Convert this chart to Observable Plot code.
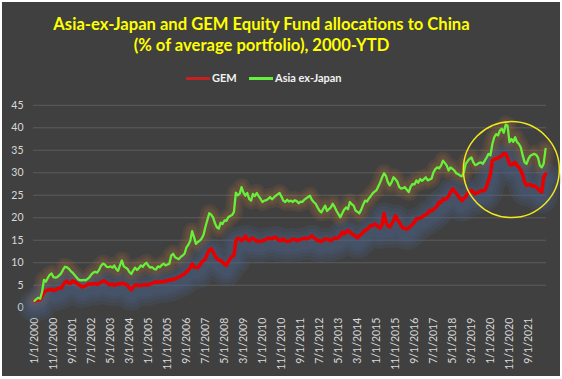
<!DOCTYPE html>
<html><head><meta charset="utf-8">
<script src="https://cdn.jsdelivr.net/npm/d3@7"></script>
<script src="https://cdn.jsdelivr.net/npm/@observablehq/plot@0.6"></script>
<style>
html,body{margin:0;padding:0;background:#fff;width:562px;height:379px;overflow:hidden;}
#box{position:absolute;left:2px;top:2px;width:558px;height:374px;background:#404040;}
.title{position:absolute;left:0;width:523px;text-align:center;color:#ffff00;font-family:Lato,sans-serif;font-weight:bold;font-size:16.6px;white-space:nowrap;}
.leg{position:absolute;font-family:Lato,sans-serif;font-weight:bold;font-size:11px;color:#f2f2f2;white-space:nowrap;}
.sw{position:absolute;height:3px;}
#plot{position:absolute;left:0;top:88px;}
</style></head>
<body>
<div id="box"></div>
<div class="title" style="top:14px">Asia-ex-Japan and GEM Equity Fund allocations to China</div>
<div class="title" style="top:35px">(% of average portfolio), 2000-YTD</div>
<div class="sw" id="swGem" style="left:186px;top:77px;width:24px;"></div>
<div class="leg" style="left:212px;top:71px">GEM</div>
<div class="sw" id="swAxj" style="left:249px;top:77px;width:24px;"></div>
<div class="leg" style="left:275px;top:71px">Asia ex-Japan</div>
<div id="plot"></div>
<script>
// Monthly values, Jan 2000 onward (% of average portfolio)
const gem = [
 1.5,1.6,1.8,1.8,2.6,3.4,3.8,3.9,4.0,4.1,3.8,3.9,          // 2000
 4.2,4.4,4.3,5.0,5.6,5.9,5.5,5.4,6.0,5.8,5.5,5.2,          // 2001
 5.0,4.6,4.7,4.9,5.2,5.3,5.2,5.3,5.3,5.2,5.4,5.6,          // 2002
 6.0,5.9,5.6,5.2,5.1,5.3,5.0,5.1,5.3,5.2,5.5,5.3,          // 2003
 5.2,5.0,4.4,4.0,4.6,5.0,5.1,4.9,5.0,5.0,5.2,5.0,          // 2004
 5.1,5.3,5.4,5.6,5.7,5.6,5.8,5.7,5.9,5.8,6.0,6.2,          // 2005
 6.1,6.4,6.4,6.7,6.8,7.0,7.3,7.5,8.0,8.3,9.0,9.7,          // 2006
 9.0,9.0,8.9,9.4,10.1,10.5,10.9,12.0,12.8,13.1,12.4,11.6,  // 2007
 10.9,10.6,10.5,10.2,9.7,9.4,10.2,10.9,11.4,11.6,14.9,15.5,// 2008
 15.3,14.9,15.2,16.0,15.2,14.9,15.3,15.5,15.0,14.9,14.7,14.8,// 2009
 14.9,15.0,15.2,15.5,15.4,15.3,15.6,15.7,15.2,14.9,15.0,15.3,// 2010
 14.9,14.7,14.8,15.0,15.3,15.2,14.9,15.1,15.2,15.3,15.5,15.3,// 2011
 15.4,15.7,16.0,15.6,15.3,14.9,14.9,14.7,15.0,15.3,15.3,15.1,// 2012
 14.9,15.2,15.5,15.4,15.6,16.1,16.8,16.4,16.8,17.2,16.8,16.4,// 2013
 16.2,15.9,15.5,16.0,16.3,16.8,17.2,17.4,17.8,18.3,18.2,18.6,// 2014
 18.4,18.0,17.7,18.6,21.0,19.0,18.2,17.9,18.6,19.4,20.5,19.6,// 2015
 19.0,18.3,17.7,17.6,17.5,17.7,18.2,18.5,19.0,19.8,19.8,19.9,// 2016
 20.2,20.5,20.7,21.0,21.6,21.5,21.9,22.2,22.7,23.5,23.4,24.2,// 2017
 24.1,24.3,24.8,25.7,26.4,26.0,25.4,24.9,24.3,23.8,24.3,24.7,// 2018
 25.5,25.9,26.1,25.7,25.3,25.5,25.7,26.0,26.0,26.1,27.0,28.3,// 2019
 29.7,32.7,33.0,33.1,33.3,33.5,33.8,34.3,34.2,33.4,32.0,31.7,// 2020
 32.0,32.3,31.6,31.2,30.5,29.5,27.9,27.2,27.3,27.4,27.0,27.1,// 2021
 26.9,26.4,26.0,25.7,29.0,29.7                              // 2022
];
const axj = [
 1.5,1.9,2.2,2.0,3.5,6.2,5.8,6.6,7.3,7.6,6.8,6.7,          // 2000
 6.8,7.2,7.6,8.4,9.1,9.0,8.7,8.2,7.8,7.3,6.8,6.3,          // 2001
 6.1,6.1,6.2,6.1,6.4,6.8,7.4,7.8,8.0,7.8,8.4,9.3,          // 2002
 9.8,9.6,9.1,9.0,9.2,8.9,9.4,8.6,8.2,9.4,10.5,9.2,         // 2003
 8.9,8.6,7.9,7.5,8.3,8.9,8.4,8.8,9.4,9.1,9.7,10.0,         // 2004
 9.3,8.9,9.0,8.6,8.5,9.2,9.0,9.5,9.8,9.4,9.6,9.8,          // 2005
 11.6,12.0,11.2,11.0,10.8,11.3,11.6,12.0,13.4,14.0,14.9,17.0,// 2006
 15.7,14.2,14.6,14.9,15.4,16.2,18.0,19.5,21.0,20.7,20.1,18.8,// 2007
 17.9,17.6,18.9,18.6,19.4,19.3,20.1,20.4,20.6,21.3,25.6,25.0,// 2008
 25.3,26.8,25.6,24.9,25.5,24.2,23.8,25.3,24.8,25.5,24.8,24.2,// 2009
 23.5,23.8,23.9,24.2,24.6,24.1,24.5,24.9,25.2,25.5,24.7,23.8,// 2010
 23.5,24.0,23.6,23.8,23.5,23.9,23.7,23.2,23.6,23.5,24.0,24.3,// 2011
 24.6,24.9,24.0,23.5,23.1,22.3,21.6,21.2,22.0,22.7,21.5,21.9,// 2012
 22.3,23.1,22.4,21.5,20.8,20.1,21.0,21.8,22.3,21.9,23.5,23.0,// 2013
 22.7,21.6,21.3,21.0,21.8,22.9,23.8,23.6,24.3,24.8,25.4,25.8,// 2014
 26.1,27.0,27.9,29.0,29.9,29.3,27.9,27.2,27.9,29.0,28.6,28.0,// 2015
 26.8,26.5,26.6,26.8,26.2,25.7,26.9,27.5,27.4,28.3,27.8,28.6,// 2016
 28.2,28.6,29.0,28.3,28.5,28.7,30.1,30.8,31.2,31.0,31.6,32.7,// 2017
 32.2,31.6,30.5,31.2,30.9,30.5,29.9,29.7,29.4,29.2,30.1,32.0,// 2018
 32.6,33.1,33.4,32.3,31.7,31.9,32.2,32.3,32.0,32.7,33.4,34.2,// 2019
 33.9,36.4,37.9,38.6,38.3,39.4,39.8,38.9,40.7,40.5,36.8,37.5,// 2020
 36.9,37.9,36.8,36.4,35.6,33.8,32.3,32.0,33.1,33.8,34.0,34.2,// 2021
 34.0,33.4,31.6,31.2,32.0,35.3                              // 2022
];
const tickLabels = ["1/1/2000","11/1/2000","9/1/2001","7/1/2002","5/1/2003","3/1/2004","1/1/2005","11/1/2005","9/1/2006","7/1/2007","5/1/2008","3/1/2009","1/1/2010","11/1/2010","9/1/2011","7/1/2012","5/1/2013","3/1/2014","1/1/2015","11/1/2015","9/1/2016","7/1/2017","5/1/2018","3/1/2019","1/1/2020","11/1/2020","9/1/2021"];
const tickStep = 10; // months between labels
const yTicks = [0,5,10,15,20,25,30,35,40,45];
const highlight = [{i: 251, v: 30.7}]; // circled 2019-YTD region
const colGem = "#e80000", colAxj = "#66f03a";

document.getElementById("swGem").style.background = "#c62020";
document.getElementById("swAxj").style.background = colAxj;

const rows = (arr) => arr.map((v, i) => ({i, v}));
const gemRows = rows(gem), axjRows = rows(axj);
const tickIdx = tickLabels.map((_, k) => k * tickStep);

// soft glow made of stacked translucent wide strokes
const glow = (data, color, widths, op, dy) => widths.map((w) =>
  Plot.lineY(data, {x: "i", y: "v", dy, stroke: color, strokeWidth: w, strokeOpacity: op, strokeLinejoin: "round", strokeLinecap: "round"}));

const chart = Plot.plot({
  width: 562, height: 291,
  marginTop: 16.8, marginBottom: 71.8, marginLeft: 33, marginRight: 16,
  style: {background: "transparent", color: "#d9d9d9", fontFamily: "Lato, sans-serif", fontSize: "10.5px", overflow: "visible"},
  x: {domain: [-0.5, gem.length - 0.5], ticks: tickIdx, tickFormat: (d) => tickLabels[d / tickStep], tickRotate: -90, tickSize: 0, tickPadding: 10, label: null},
  y: {domain: [0, 45], ticks: yTicks, tickSize: 0, tickPadding: 10, label: null},
  marks: [
    Plot.ruleY(yTicks.slice(1), {stroke: "#5c5c5c", strokeWidth: 1}),
    ...glow(axjRows, "#b8743a", [18, 13, 9], 0.12, 0),
    ...glow(gemRows, "#50648f", [32, 25, 18, 12], 0.17, 5),
    Plot.lineY(gemRows, {x: "i", y: "v", stroke: colGem, strokeWidth: 3.5}),
    Plot.lineY(axjRows, {x: "i", y: "v", stroke: colAxj, strokeWidth: 2.3}),
    Plot.dot(highlight, {x: "i", y: "v", r: 48, stroke: "#f0e81a", strokeWidth: 1.5, fill: "none"})
  ]
});
document.getElementById("plot").appendChild(chart);
</script>
</body></html>
